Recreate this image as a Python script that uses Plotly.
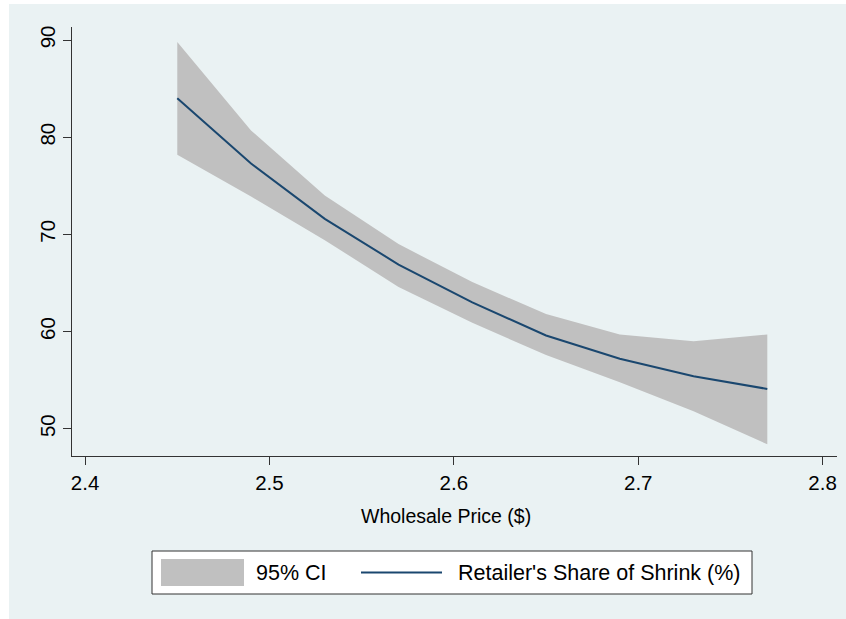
import plotly.graph_objects as go

# ---- data ----
price = [2.45, 2.49, 2.53, 2.57, 2.61, 2.65, 2.69, 2.73, 2.77]
share_fit = [84.0, 77.3, 71.6, 66.9, 63.0, 59.6, 57.2, 55.4, 54.1]
ci_upper = [89.8, 80.7, 74.0, 69.0, 65.1, 61.8, 59.7, 59.0, 59.7]
ci_lower = [78.2, 73.9, 69.4, 64.6, 60.9, 57.6, 54.8, 51.8, 48.4]
x_ticks = [2.4, 2.5, 2.6, 2.7, 2.8]
y_ticks = [50, 60, 70, 80, 90]
x_title = "Wholesale Price ($)"
legend_labels = ["95% CI", "Retailer's Share of Shrink (%)"]

W, H = 846, 619
ML, MR, MT, MB = 72, 9, 27, 163
PW, PH = W - ML - MR, H - MT - MB

BG = "#EAF2F3"
BAND = "#C0C0C0"
NAVY = "#1A476F"
AXIS = "#333333"
FONT = "Liberation Sans, Arial, Helvetica, sans-serif"


def px_x(px):
    """window pixel x -> paper fraction"""
    return (px - ML) / PW


def px_y(py):
    """window pixel y -> paper fraction"""
    return (H - MB - py) / PH


fig = go.Figure()
fig.add_trace(go.Scatter(x=price, y=ci_lower, mode="lines", line=dict(width=0, color=BAND),
                         showlegend=False, hoverinfo="skip"))
fig.add_trace(go.Scatter(x=price, y=ci_upper, mode="lines", line=dict(width=0, color=BAND),
                         fill="tonexty", fillcolor=BAND, name=legend_labels[0], showlegend=False))
fig.add_trace(go.Scatter(x=price, y=share_fit, mode="lines", line=dict(width=2, color=NAVY),
                         name=legend_labels[1], showlegend=False))

LEG_Y = 572.5
shapes = [
    # graph region background (thin white strip at left/top as in the reference)
    dict(type="rect", xref="paper", yref="paper", x0=px_x(9), x1=px_x(W + 5), y0=px_y(H + 5), y1=px_y(4),
         fillcolor=BG, line=dict(width=0), layer="below"),
    # legend box
    dict(type="rect", xref="paper", yref="paper", x0=px_x(152), x1=px_x(752), y0=px_y(594), y1=px_y(551),
         fillcolor="white", line=dict(color=AXIS, width=1)),
    # legend swatch
    dict(type="rect", xref="paper", yref="paper", x0=px_x(161), x1=px_x(244), y0=px_y(586), y1=px_y(559),
         fillcolor=BAND, line=dict(width=0)),
    # legend line
    dict(type="line", xref="paper", yref="paper", x0=px_x(361), x1=px_x(442), y0=px_y(LEG_Y), y1=px_y(LEG_Y),
         line=dict(color=NAVY, width=2)),
]

annotations = [
    dict(text=x_title, xref="paper", yref="paper", x=px_x(446), y=px_y(516), xanchor="center",
         yanchor="middle", showarrow=False, font=dict(family=FONT, size=19.5, color="black")),
    dict(text=legend_labels[0], xref="paper", yref="paper", x=px_x(254), y=px_y(LEG_Y), xanchor="left",
         yanchor="middle", showarrow=False, font=dict(family=FONT, size=21.5, color="black")),
    dict(text=legend_labels[1], xref="paper", yref="paper", x=px_x(456), y=px_y(LEG_Y), xanchor="left",
         yanchor="middle", showarrow=False, font=dict(family=FONT, size=21.5, color="black")),
]

fig.update_layout(
    width=W, height=H,
    margin=dict(l=ML, r=MR, t=MT, b=MB, pad=0),
    paper_bgcolor="white",
    plot_bgcolor="white",
    font=dict(family=FONT, size=20, color="black"),
    showlegend=False,
    shapes=shapes,
    annotations=annotations,
    xaxis=dict(
        range=[2.3929, 2.8078], tickvals=x_ticks, ticktext=[str(v) for v in x_ticks],
        showgrid=False, zeroline=False, showline=True, linecolor=AXIS, linewidth=1,
        ticks="outside", ticklen=8, tickcolor=AXIS, tickwidth=1,
        tickfont=dict(family=FONT, size=20.5, color="black"),
    ),
    yaxis=dict(
        range=[47.2, 91.34], tickvals=y_ticks, ticktext=[str(v) for v in y_ticks],
        showgrid=True, gridcolor=BG, gridwidth=1.5, zeroline=False,
        showline=True, linecolor=AXIS, linewidth=1,
        ticks="outside", ticklen=8, tickcolor=AXIS, tickwidth=1, tickangle=-90,
        tickfont=dict(family=FONT, size=20.5, color="black"),
    ),
)

fig.write_html(
    "out.html",
    config={"displayModeBar": False},
    post_script="document.body.style.margin='0';document.body.style.overflow='hidden';",
)
